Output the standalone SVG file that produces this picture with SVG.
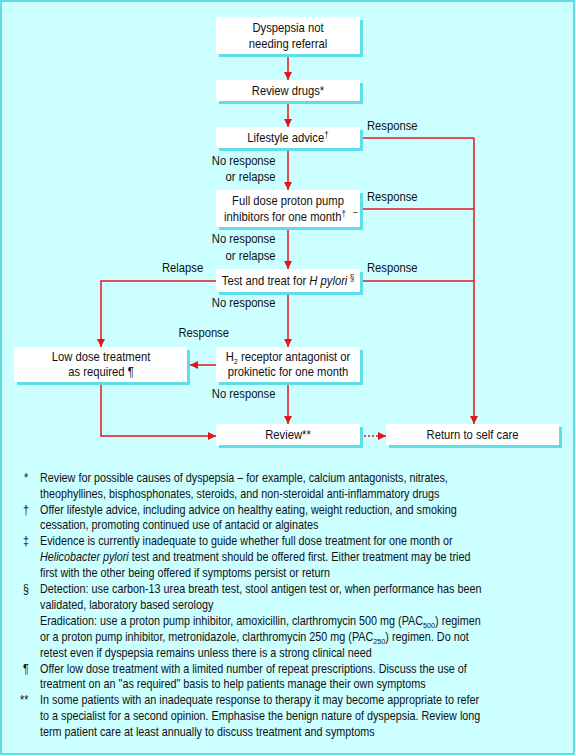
<svg xmlns="http://www.w3.org/2000/svg" width="576" height="756" viewBox="0 0 576 756">
<defs>
<marker id="ah" viewBox="0 0 10 10" refX="10" refY="5" markerWidth="8" markerHeight="8" markerUnits="userSpaceOnUse" orient="auto">
<path d="M0,0 L10,5 L0,10 z" fill="#e8141c"/>
</marker>
<style>
text{font-family:"Liberation Sans",Arial,sans-serif;font-size:12.5px;fill:#111}
.fn{font-size:12px}
.c{text-anchor:middle}
.e{text-anchor:end}
.box{fill:#fff}
.sh{fill:#5fdde8}
.ln{fill:none;stroke:#e8141c;stroke-width:1.5}
.ar{marker-end:url(#ah)}
.dot{stroke-dasharray:2 2}
.sup{font-size:9px}
.sub{font-size:8px}
</style>
</defs>
<rect x="1" y="1" width="573" height="753" fill="#ccffff" stroke="#5fdde0" stroke-width="2"/>

<g id="connectors">
<line class="ln ar" x1="288" y1="54" x2="288" y2="80"/>
<line class="ln ar" x1="288" y1="101" x2="288" y2="127"/>
<line class="ln ar" x1="288" y1="148" x2="288" y2="190"/>
<line class="ln ar" x1="288" y1="227" x2="288" y2="269"/>
<line class="ln ar" x1="288" y1="292" x2="288" y2="347"/>
<line class="ln ar" x1="288" y1="382" x2="288" y2="424"/>
<polyline class="ln" points="360,138 474,138"/>
<polyline class="ln" points="360,209 474,209"/>
<polyline class="ln" points="360,281 474,281"/>
<line class="ln ar" x1="474" y1="138" x2="474" y2="424"/>
<polyline class="ln ar" points="216,281 101,281 101,347"/>
<line class="ln ar" x1="216" y1="365" x2="190" y2="365"/>
<polyline class="ln ar" points="101,382 101,436 216,436"/>
<line class="ln ar dot" x1="360" y1="436" x2="386" y2="436"/>
<text transform="translate(367 130) scale(0.9 1)">Response</text>
<text transform="translate(367 201) scale(0.9 1)">Response</text>
<text transform="translate(367 272) scale(0.9 1)">Response</text>
<text class="e" transform="translate(275.5 165) scale(0.9 1)">No response</text>
<text class="e" transform="translate(275.5 181) scale(0.9 1)">or relapse</text>
<text class="e" transform="translate(275.5 243) scale(0.9 1)">No response</text>
<text class="e" transform="translate(275.5 260) scale(0.9 1)">or relapse</text>
<text transform="translate(162 272) scale(0.9 1)">Relapse</text>
<text class="e" transform="translate(275.5 307) scale(0.9 1)">No response</text>
<text class="e" transform="translate(229 337) scale(0.9 1)">Response</text>
<text class="e" transform="translate(275.5 398) scale(0.9 1)">No response</text>
</g>

<g id="n1">
<rect class="sh" x="219" y="20" width="144" height="37"/>
<rect class="box" x="216" y="17" width="144" height="37"/>
<text class="c" transform="translate(288 32) scale(0.9 1)">Dyspepsia not</text>
<text class="c" transform="translate(288 48) scale(0.9 1)">needing referral</text>
</g>
<g id="n2">
<rect class="sh" x="219" y="83" width="144" height="21"/>
<rect class="box" x="216" y="80" width="144" height="21"/>
<text class="c" transform="translate(288 94.5) scale(0.9 1)">Review drugs*</text>
</g>
<g id="n3">
<rect class="sh" x="219" y="130" width="144" height="21"/>
<rect class="box" x="216" y="127" width="144" height="21"/>
<text class="c" transform="translate(288 142) scale(0.9 1)">Lifestyle advice<tspan class="sup" dy="-4">†</tspan></text>
</g>
<g id="n4">
<rect class="sh" x="219" y="193" width="144" height="37"/>
<rect class="box" x="216" y="190" width="144" height="37"/>
<text class="c" transform="translate(288 205) scale(0.9 1)">Full dose proton pump</text>
<text class="c" transform="translate(285 221) scale(0.9 1)">inhibitors for one month<tspan class="sup" dy="-4">†</tspan></text>
<text class="sup" transform="translate(353 215) scale(0.9 1)">–</text>
</g>
<g id="n5">
<rect class="sh" x="219" y="272" width="144" height="23"/>
<rect class="box" x="216" y="269" width="144" height="23"/>
<text class="c" transform="translate(288 285) scale(0.9 1)">Test and treat for <tspan font-style="italic">H pylori</tspan><tspan class="sup" dy="-4"> §</tspan></text>
</g>
<g id="n6">
<rect class="sh" x="219" y="350" width="144" height="35"/>
<rect class="box" x="216" y="347" width="144" height="35"/>
<text class="c" transform="translate(288 361) scale(0.9 1)">H<tspan class="sub" dy="3">2</tspan><tspan dy="-3"> receptor antagonist or</tspan></text>
<text class="c" transform="translate(288 376) scale(0.9 1)">prokinetic for one month</text>
</g>
<g id="n7">
<rect class="sh" x="17" y="350" width="173" height="35"/>
<rect class="box" x="14" y="347" width="173" height="35"/>
<text class="c" transform="translate(101 361) scale(0.9 1)">Low dose treatment</text>
<text class="c" transform="translate(101 376) scale(0.9 1)">as required ¶</text>
</g>
<g id="n8">
<rect class="sh" x="219" y="427" width="144" height="21"/>
<rect class="box" x="216" y="424" width="144" height="21"/>
<text class="c" transform="translate(288 439) scale(0.9 1)">Review**</text>
</g>
<g id="n9">
<rect class="sh" x="389" y="427" width="173" height="21"/>
<rect class="box" x="386" y="424" width="173" height="21"/>
<text class="c" transform="translate(472.5 439) scale(0.9 1)">Return to self care</text>
</g>

<g id="footnotes">
<text class="fn" transform="translate(24 482) scale(0.9 1)">*</text>
<text class="fn" transform="translate(40 482) scale(0.9 1)">Review for possible causes of dyspepsia – for example, calcium antagonists, nitrates,</text>
<text class="fn" transform="translate(40 498) scale(0.9 1)">theophyllines, bisphosphonates, steroids, and non-steroidal anti-inflammatory drugs</text>
<text class="fn" transform="translate(23 514) scale(0.9 1)">†</text>
<text class="fn" transform="translate(40 514) scale(0.9 1)">Offer lifestyle advice, including advice on healthy eating, weight reduction, and smoking</text>
<text class="fn" transform="translate(40 529) scale(0.9 1)">cessation, promoting continued use of antacid or alginates</text>
<text class="fn" transform="translate(23 545) scale(0.9 1)">‡</text>
<text class="fn" transform="translate(40 545) scale(0.9 1)">Evidence is currently inadequate to guide whether full dose treatment for one month or</text>
<text class="fn" transform="translate(40 561) scale(0.9 1)"><tspan font-style="italic">Helicobacter pylori</tspan> test and treatment should be offered first. Either treatment may be tried</text>
<text class="fn" transform="translate(40 577) scale(0.9 1)">first with the other being offered if symptoms persist or return</text>
<text class="fn" transform="translate(23 593) scale(0.9 1)">§</text>
<text class="fn" transform="translate(40 593) scale(0.9 1)">Detection: use carbon-13 urea breath test, stool antigen test or, when performance has been</text>
<text class="fn" transform="translate(40 609) scale(0.9 1)">validated, laboratory based serology</text>
<text class="fn" transform="translate(40 625) scale(0.9 1)">Eradication: use a proton pump inhibitor, amoxicillin, clarthromycin 500 mg (PAC<tspan class="sub" dy="3">500</tspan><tspan dy="-3">) regimen</tspan></text>
<text class="fn" transform="translate(40 641) scale(0.9 1)">or a proton pump inhibitor, metronidazole, clarthromycin 250 mg (PAC<tspan class="sub" dy="3">250</tspan><tspan dy="-3">) regimen. Do not</tspan></text>
<text class="fn" transform="translate(40 657) scale(0.9 1)">retest even if dyspepsia remains unless there is a strong clinical need</text>
<text class="fn" transform="translate(23 673) scale(0.9 1)">¶</text>
<text class="fn" transform="translate(40 673) scale(0.9 1)">Offer low dose treatment with a limited number of repeat prescriptions. Discuss the use of</text>
<text class="fn" transform="translate(40 688) scale(0.9 1)">treatment on an "as required" basis to help patients manage their own symptoms</text>
<text class="fn" transform="translate(20 704) scale(0.9 1)">**</text>
<text class="fn" transform="translate(40 704) scale(0.9 1)">In some patients with an inadequate response to therapy it may become appropriate to refer</text>
<text class="fn" transform="translate(40 720) scale(0.9 1)">to a specialist for a second opinion. Emphasise the benign nature of dyspepsia. Review long</text>
<text class="fn" transform="translate(40 736) scale(0.9 1)">term patient care at least annually to discuss treatment and symptoms</text>
</g>
</svg>
